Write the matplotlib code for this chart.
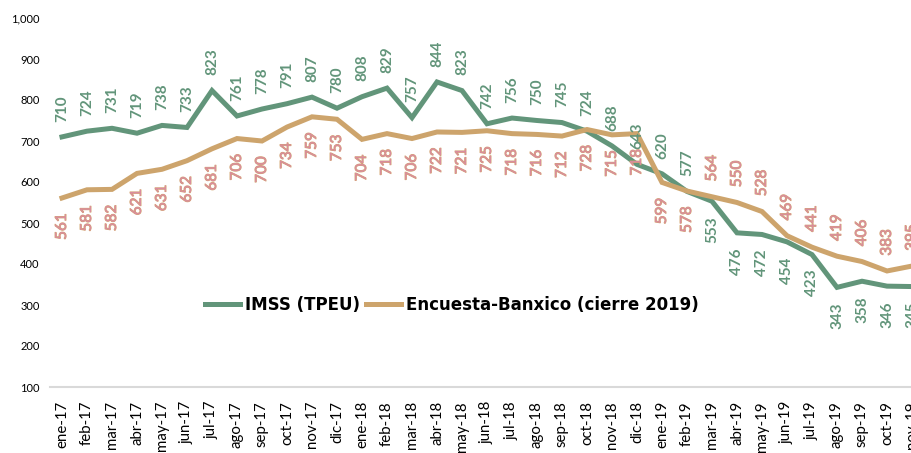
import matplotlib.pyplot as plt
import matplotlib.patheffects as pe

# --- datos ---
meses = [
    "ene-17", "feb-17", "mar-17", "abr-17", "may-17", "jun-17", "jul-17", "ago-17",
    "sep-17", "oct-17", "nov-17", "dic-17",
    "ene-18", "feb-18", "mar-18", "abr-18", "may-18", "jun-18", "jul-18", "ago-18",
    "sep-18", "oct-18", "nov-18", "dic-18",
    "ene-19", "feb-19", "mar-19", "abr-19", "may-19", "jun-19", "jul-19", "ago-19",
    "sep-19", "oct-19", "nov-19",
]
imss = [710, 724, 731, 719, 738, 733, 823, 761, 778, 791, 807, 780,
        808, 829, 757, 844, 823, 742, 756, 750, 745, 724, 688, 643,
        620, 577, 553, 476, 472, 454, 423, 343, 358, 346, 345]
encuesta = [561, 581, 582, 621, 631, 652, 681, 706, 700, 734, 759, 753,
            704, 718, 706, 722, 721, 725, 718, 716, 712, 728, 715, 718,
            599, 578, 564, 550, 528, 469, 441, 419, 406, 383, 395]

verde = "#62957A"
tan = "#CDA46C"

fig = plt.figure(figsize=(9.11, 4.53), dpi=100)
ax = fig.add_axes([49.5 / 911, 66 / 453, 875 / 911, 369 / 453])

x = list(range(len(meses)))
ax.plot(x, imss, color=verde, lw=3.6, label="IMSS (TPEU)", solid_joinstyle="miter")
ax.plot(x, encuesta, color=tan, lw=3.6, label="Encuesta-Banxico (cierre 2019)",
        solid_joinstyle="miter")

# etiquetas de datos
for i, v in enumerate(imss):
    up = i <= 25
    ax.annotate(str(v), (i, v), xytext=(0, 11 if up else -11), textcoords="offset points",
                rotation=90, ha="center", va="bottom" if up else "top",
                fontsize=11, fontweight="bold", color=verde, family="Lato")
for i, v in enumerate(encuesta):
    up = i >= 26
    t = ax.annotate(str(v), (i, v), xytext=(0, 11 if up else -11), textcoords="offset points",
                    rotation=90, ha="center", va="bottom" if up else "top",
                    fontsize=11, color="#DA8C9E", family="Lato")
    t.set_path_effects([pe.withStroke(linewidth=0.7, foreground="#D2A36E")])

ax.set_xlim(-0.5, len(meses) - 0.5)
ax.set_ylim(100, 1000)
ax.set_yticks(range(100, 1001, 100))
ax.set_yticklabels([f"{t:,}" for t in range(100, 1001, 100)], fontsize=8, family="Lato")
ax.set_xticks(x)
ax.set_xticklabels(meses, rotation=90, fontsize=10.8, family="Lato")
ax.tick_params(axis="both", length=0)
ax.tick_params(axis="x", pad=10)
ax.tick_params(axis="y", pad=7)

for s in ["top", "right", "left"]:
    ax.spines[s].set_visible(False)
ax.spines["bottom"].set_color("#D9D9D9")
ax.spines["bottom"].set_linewidth(1.5)

ax.legend(loc="center", bbox_to_anchor=(452 / 911, 1 - 305 / 453), bbox_transform=fig.transFigure,
          ncol=2, frameon=False, handlelength=2.1, columnspacing=0.4, handletextpad=0.3,
          prop={"family": "DejaVu Sans", "weight": "bold", "size": 12})

fig.savefig("out.png", dpi=100)
